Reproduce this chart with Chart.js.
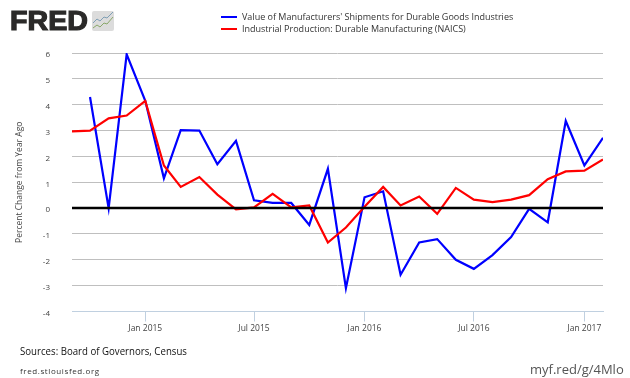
<!DOCTYPE html>
<html lang="en">
<head>
    <meta charset="UTF-8">
    <title>FRED durable goods</title>
    <style>
        html, body { margin: 0; padding: 0; background: #fff; }
        #wrap { position: relative; width: 630px; height: 378px; overflow: hidden; font-family: "Open Sans", sans-serif; }
        #wrap div, #wrap svg { position: absolute; white-space: nowrap; }
        #myChart { position: absolute; left: 0; top: 0; }
        #logo { left: 10px; top: 4px; font: 900 27px/34px "Liberation Sans", sans-serif; color: #2b2a29; -webkit-text-stroke: 1.2px #2b2a29; transform: scaleX(1.06); transform-origin: left center; }
        .legendLine { left: 221px; width: 16px; height: 2px; }
        .legendText { left: 242px; font-size: 9px; line-height: 12px; color: #333; }
        #sources { left: 20px; top: 343px; font-size: 11.5px; line-height: 16px; color: #111; transform: scaleX(0.84); transform-origin: left center; }
        #site { left: 20px; top: 365px; font-size: 8px; line-height: 11px; color: #333; letter-spacing: 0.6px; }
        #short { left: 530px; top: 360px; font-size: 13px; line-height: 18px; color: #555; }
    </style>
    <script src="https://cdn.jsdelivr.net/npm/chart.js@4/dist/chart.umd.min.js"></script>
</head>
<body>
    <div id="wrap">
        <canvas id="myChart" width="630" height="378"></canvas>
        <div id="logo">FRED</div>
        <svg style="left:92px;top:11px" width="22" height="20" viewBox="0 0 22 20">
            <rect width="22" height="20" rx="2" fill="#dcdcdc"/>
            <polyline points="1,12 5,8 8,10 12,6 15,7 21,1" fill="none" stroke="#7f9fb5" stroke-width="1"/>
            <polyline points="1,17 5,14 8,16 12,12 15,13 21,6" fill="none" stroke="#8aa86a" stroke-width="1"/>
        </svg>
        <div class="legendLine" style="top:16px;background:#0000ff"></div>
        <div class="legendText" style="top:11px">Value of Manufacturers' Shipments for Durable Goods Industries</div>
        <div class="legendLine" style="top:28px;background:#ff0000"></div>
        <div class="legendText" style="top:23px">Industrial Production: Durable Manufacturing (NAICS)</div>
        <div id="sources">Sources: Board of Governors, Census</div>
        <div id="site">fred.stlouisfed.org</div>
        <div id="short">myf.red/g/4Mlo</div>
    </div>
    <script>
        // Meses do grafico, set/2014 ate fev/2017
        const months = [
            '2014-09-01', '2014-10-01', '2014-11-01', '2014-12-01',
            '2015-01-01', '2015-02-01', '2015-03-01', '2015-04-01', '2015-05-01', '2015-06-01',
            '2015-07-01', '2015-08-01', '2015-09-01', '2015-10-01', '2015-11-01', '2015-12-01',
            '2016-01-01', '2016-02-01', '2016-03-01', '2016-04-01', '2016-05-01', '2016-06-01',
            '2016-07-01', '2016-08-01', '2016-09-01', '2016-10-01', '2016-11-01', '2016-12-01',
            '2017-01-01', '2017-02-01'
        ];
        const shipments = [
            null, 4.3, 0.0, 5.95,
            4.15, 1.15, 3.02, 3.0, 1.7, 2.6,
            0.3, 0.2, 0.2, -0.65, 1.52, -3.1,
            0.42, 0.65, -2.58, -1.33, -1.2, -2.0,
            -2.35, -1.82, -1.12, -0.03, -0.55, 3.37,
            1.65, 2.72
        ];
        const production = [
            2.97, 3.0, 3.47, 3.58,
            4.15, 1.65, 0.82, 1.2, 0.52, -0.05,
            0.03, 0.55, 0.03, 0.1, -1.33, -0.75,
            0.05, 0.82, 0.1, 0.45, -0.22, 0.78,
            0.33, 0.23, 0.33, 0.5, 1.12, 1.42,
            1.45, 1.88
        ];
        const tickDates = ['2015-01-01', '2015-07-01', '2016-01-01', '2016-07-01', '2017-01-01'];
        const tickLabels = ['Jan 2015', 'Jul 2015', 'Jan 2016', 'Jul 2016', 'Jan 2017'];
        const yTicks = [-4, -3, -2, -1, 0, 1, 2, 3, 4, 5, 6];

        const toDay = d => Date.parse(d) / 86400000;
        const series = values => months.map((m, i) => ({ x: toDay(m), y: values[i] }));

        // Linha do zero fica por cima das series
        const zeroLine = {
            id: 'zeroLine',
            afterDatasetsDraw(chart) {
                const { ctx, chartArea, scales } = chart;
                const y = scales.y.getPixelForValue(0);
                ctx.save();
                ctx.strokeStyle = '#000';
                ctx.lineWidth = 2.5;
                ctx.beginPath();
                ctx.moveTo(chartArea.left, y);
                ctx.lineTo(chartArea.right, y);
                ctx.stroke();
                ctx.restore();
            }
        };

        new Chart(document.getElementById('myChart').getContext('2d'), {
            type: 'line',
            data: {
                datasets: [
                    { label: "Value of Manufacturers' Shipments for Durable Goods Industries", data: series(shipments), borderColor: '#0000ff', borderWidth: 2.2, pointRadius: 0, tension: 0 },
                    { label: 'Industrial Production: Durable Manufacturing (NAICS)', data: series(production), borderColor: '#ff0000', borderWidth: 2.2, pointRadius: 0, tension: 0, order: -1 }
                ]
            },
            plugins: [zeroLine],
            options: {
                responsive: false,
                animation: false,
                layout: { padding: { left: 0, right: 27, top: 53, bottom: 0 } },
                plugins: { legend: { display: false }, tooltip: { enabled: false } },
                scales: {
                    x: {
                        type: 'linear',
                        min: toDay(months[0]),
                        max: toDay(months[months.length - 1]),
                        afterBuildTicks: axis => { axis.ticks = tickDates.map(d => ({ value: toDay(d) })); },
                        afterFit: axis => { axis.height = 66.5; },
                        grid: { drawOnChartArea: false, drawTicks: true, tickLength: 10, color: '#c0d0e0' },
                        border: { color: '#c0d0e0' },
                        ticks: {
                            autoSkip: false, maxRotation: 0, padding: 2,
                            color: '#444', font: { family: '"Open Sans"', size: 8.5 },
                            callback: value => tickLabels[tickDates.findIndex(d => toDay(d) === value)]
                        }
                    },
                    y: {
                        min: -4,
                        max: 6,
                        afterBuildTicks: axis => { axis.ticks = yTicks.map(v => ({ value: v })); },
                        afterFit: axis => { axis.width = 72; },
                        border: { display: false },
                        grid: {
                            drawTicks: false,
                            color: ctx => ctx.tick.value === -4 ? '#c0d0e0' : '#bfbfbf'
                        },
                        ticks: {
                            padding: 22, color: '#444',
                            font: { family: '"Open Sans"', size: 8, lineHeight: 0.5 },
                            // linha vazia antes do numero desce o rotulo 2px, como no original
                            callback: value => ['', String(value)]
                        },
                        title: {
                            display: true,
                            text: 'Percent Change from Year Ago',
                            color: '#444',
                            font: { family: '"Open Sans"', size: 8.5 },
                            padding: { top: 14, bottom: 0 }
                        }
                    }
                }
            }
        });
    </script>
</body>
</html>
